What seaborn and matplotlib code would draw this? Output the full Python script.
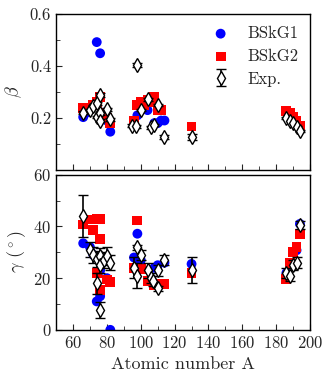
import numpy as np
import pandas as pd
import matplotlib
matplotlib.use("Agg")
import matplotlib.pyplot as plt
import seaborn as sns
from matplotlib.ticker import MultipleLocator

sns.set_style("ticks")
plt.rcParams["font.family"] = "serif"
plt.rcParams["font.serif"] = ["cmr10", "DejaVu Serif"]
plt.rcParams["mathtext.fontset"] = "cm"
plt.rcParams["axes.formatter.use_mathtext"] = True
plt.rcParams["axes.unicode_minus"] = False

# ---------------------------------------------------------------------------
# beta (top panel)
# ---------------------------------------------------------------------------
g1_beta_A = [66, 68, 72, 74, 76, 78, 80, 82, 98, 100, 104, 108, 110, 112, 114]
g1_beta = [0.203, 0.22, 0.25, 0.492, 0.449, 0.22, 0.19, 0.147,
           0.21, 0.25, 0.23, 0.18, 0.18, 0.19, 0.19]

g2_beta_A = [66, 68, 70, 72, 74, 76, 78, 80, 82,
             96, 98, 100, 102, 104, 106, 108, 110, 112,
             130, 186, 188, 190, 192, 194]
g2_beta = [0.237, 0.24, 0.24, 0.25, 0.26, 0.28, 0.22, 0.20, 0.18,
           0.19, 0.25, 0.26, 0.25, 0.27, 0.26, 0.28, 0.23, 0.23,
           0.167, 0.228, 0.22, 0.205, 0.19, 0.17]

exp_beta_A = [66, 70, 72, 74, 74, 76, 76, 76, 80, 82,
              95, 97, 98, 100, 104, 106, 108, 110, 114,
              130, 186, 188, 190, 192, 194]
exp_beta = [0.22, 0.23, 0.246, 0.256, 0.203, 0.288, 0.218, 0.19, 0.233, 0.195,
            0.17, 0.168, 0.404, 0.23, 0.272, 0.164, 0.173, 0.25, 0.128,
            0.128, 0.199, 0.19, 0.18, 0.165, 0.15]
exp_beta_err = [0.005, 0.005, 0.005, 0.005, 0.005, 0.008, 0.005, 0.005, 0.005, 0.005,
                0.005, 0.005, 0.008, 0.005, 0.005, 0.005, 0.005, 0.005, 0.008,
                0.012, 0.005, 0.005, 0.005, 0.005, 0.005]

# ---------------------------------------------------------------------------
# gamma (bottom panel), degrees
# ---------------------------------------------------------------------------
g1_gamma_A = [66, 70, 72, 74, 76, 76, 80, 82, 96, 98, 98, 100, 108, 110, 114,
              130, 186, 192, 194]
g1_gamma = [33.5, 32, 29, 11, 13, 23, 20, 0, 28, 37.2, 27.5, 27, 24, 25, 26,
            25.5, 22, 30.8, 41]

g2_gamma_A = [66, 70, 72, 74, 76, 76, 74, 76, 80, 82,
              96, 98, 100, 104, 108, 112, 114,
              130, 186, 188, 190, 192, 194]
g2_gamma = [40.8, 42.7, 38.7, 43, 43, 35, 22, 15.5, 19.5, 18.5,
            24, 42.3, 23.5, 19, 17.5, 17.7, 17.7,
            22, 19.7, 26, 30, 32, 37]

exp_gamma_A = [66, 70, 72, 74, 74, 76, 76, 76, 78, 80, 82,
               96, 98, 98, 100, 104, 106, 107, 110, 110, 114,
               130, 186, 188, 190, 192, 194]
exp_gamma = [44, 31, 29, 27.5, 18, 28.5, 25, 7.7, 27, 28.5, 26,
             24, 21, 32, 29, 23, 20, 19, 16, 23, 27,
             23, 22, 21, 25, 26, 40.7]
exp_gamma_err = [8, 3, 3, 3, 4, 3, 3, 3, 3, 3.5, 3,
                 4, 5, 1, 2, 3, 2, 2, 1, 2, 2,
                 5, 2, 2, 2, 2, 1.5]

blue = "#0000ff"
red = "#ff0000"

fig = plt.figure(figsize=(3.32, 3.8), dpi=100)
ax_b = fig.add_axes([0.169, 0.553, 0.765, 0.410])
ax_g = fig.add_axes([0.169, 0.132, 0.765, 0.408])


def draw(ax, a1, v1, a2, v2, ae, ve, err, legend=False):
    sns.scatterplot(x=a1, y=v1, ax=ax, color=blue, marker="o", s=50,
                    edgecolor="none", label="BSkG1", zorder=2)
    sns.scatterplot(x=a2, y=v2, ax=ax, color=red, marker="s", s=50,
                    edgecolor="none", label="BSkG2", zorder=3)
    ax.errorbar(ae, ve, yerr=err, fmt="d", color="black", mfc="white",
                mec="black", ms=7.5, mew=1.0, capsize=3.5, elinewidth=1.2,
                capthick=1.2, label="Exp.", zorder=4)
    if legend:
        ax.legend(loc="upper right", frameon=False, fontsize=12,
                  handletextpad=0.6, borderaxespad=0.3, labelspacing=0.45)
    elif ax.get_legend() is not None:
        ax.get_legend().remove()
    ax.set_xlim(50, 200)
    ax.xaxis.set_major_locator(MultipleLocator(20))
    ax.xaxis.set_minor_locator(MultipleLocator(10))
    ax.tick_params(which="both", direction="in", labelsize=12)
    ax.tick_params(which="major", length=4)
    ax.tick_params(which="minor", length=3)


draw(ax_b, g1_beta_A, g1_beta, g2_beta_A, g2_beta,
     exp_beta_A, exp_beta, exp_beta_err, legend=True)
ax_b.set_ylim(0, 0.6)
ax_b.set_yticks([0.2, 0.4, 0.6])
ax_b.yaxis.set_minor_locator(MultipleLocator(0.1))
ax_b.set_yticklabels(["0.2", "0.4", "0.6"])
ax_b.tick_params(labelbottom=False)
ax_b.set_ylabel(r"$\beta$", fontsize=13)

draw(ax_g, g1_gamma_A, g1_gamma, g2_gamma_A, g2_gamma,
     exp_gamma_A, exp_gamma, exp_gamma_err)
ax_g.set_ylim(0, 60)
ax_g.yaxis.set_major_locator(MultipleLocator(20))
ax_g.yaxis.set_minor_locator(MultipleLocator(10))
ax_g.set_ylabel(r"$\gamma$ ($^\circ$)", fontsize=13)
ax_g.set_xlabel("Atomic number A", fontsize=13)

for ax in (ax_b, ax_g):
    for sp in ax.spines.values():
        sp.set_linewidth(1.0)
        sp.set_color("black")

fig.savefig("out.png", dpi=100)
